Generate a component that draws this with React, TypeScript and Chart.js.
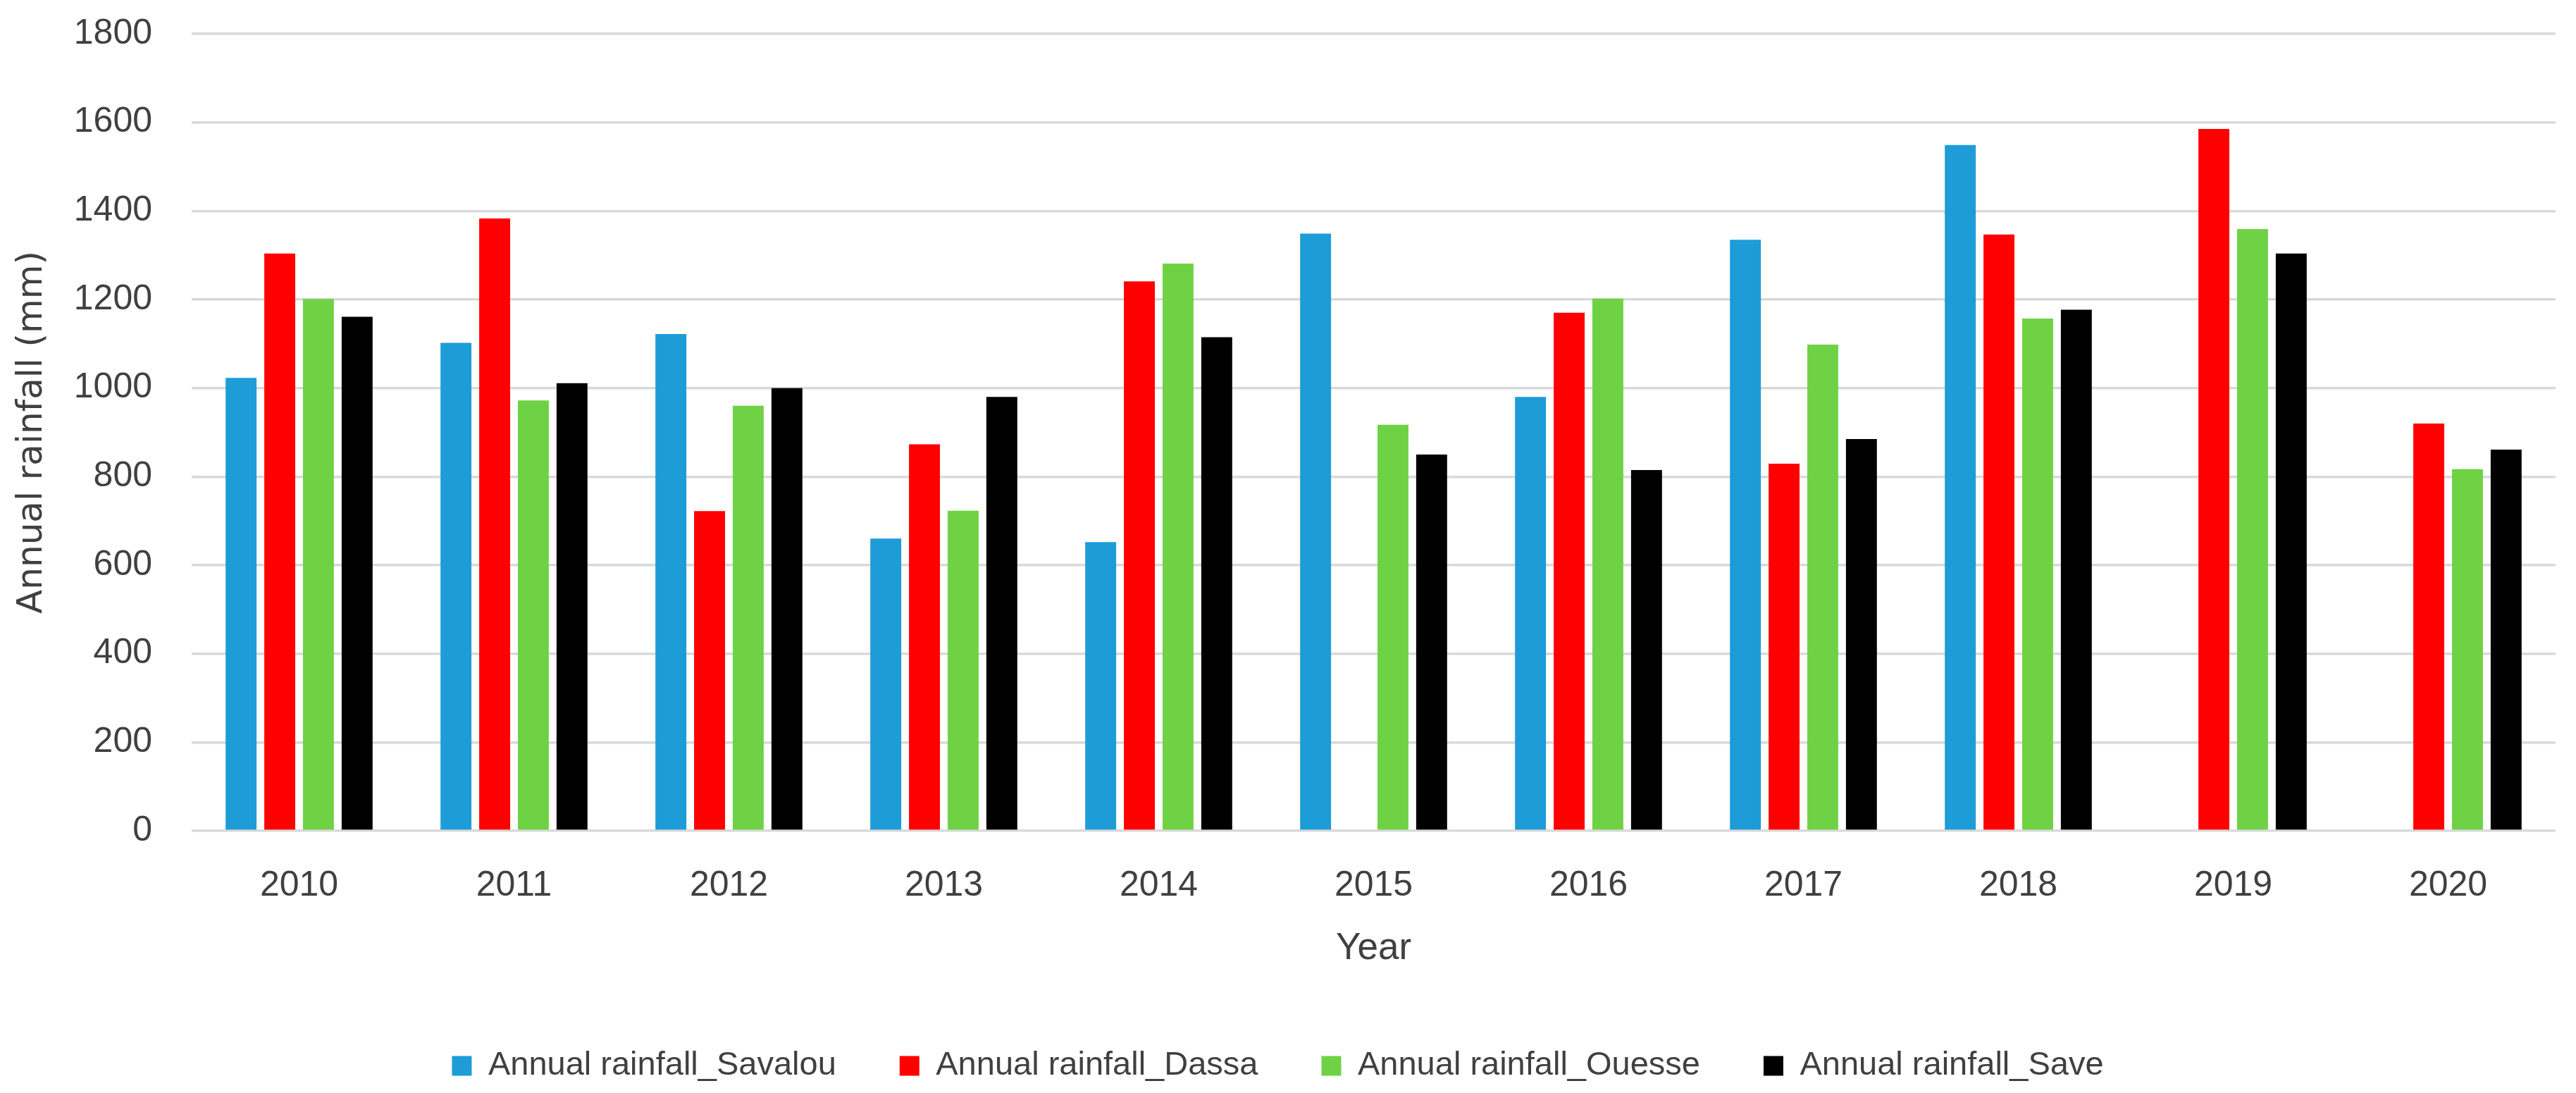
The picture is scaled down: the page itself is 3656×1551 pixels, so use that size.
import React, { useEffect, useRef } from "react";
import { Chart, registerables } from "chart.js";

Chart.register(...registerables);

const years = ["2010", "2011", "2012", "2013", "2014", "2015", "2016", "2017", "2018", "2019", "2020"];
const savalou = [1023, 1102, 1122, 660, 652, 1349, 980, 1335, 1549, null, null];
const dassa = [1304, 1383, 722, 873, 1241, null, 1170, 829, 1347, 1585, 920];
const ouesse = [1201, 972, 960, 723, 1281, 917, 1202, 1098, 1157, 1359, 817];
const save = [1161, 1011, 1000, 980, 1115, 850, 815, 885, 1177, 1304, 861];
const seriesNames = [
  "Annual rainfall_Savalou",
  "Annual rainfall_Dassa",
  "Annual rainfall_Ouesse",
  "Annual rainfall_Save",
];
const seriesColors = ["#1E9CD8", "#FF0000", "#6FD245", "#000000"];
const yTitle = "Annual rainfall (mm)";
const xTitle = "Year";

const W = 3656;
const H = 1551;

export default function App() {
  const ref = useRef<HTMLCanvasElement | null>(null);

  useEffect(() => {
    if (!ref.current) return;
    const values = [savalou, dassa, ouesse, save];
    const chart = new Chart(ref.current, {
      type: "bar",
      data: {
        labels: years,
        datasets: values.map((v, i) => ({
          label: seriesNames[i],
          data: v,
          backgroundColor: seriesColors[i],
          borderWidth: 0,
          categoryPercentage: 0.72,
          barPercentage: 0.8,
        })),
      },
      options: {
        animation: false,
        responsive: false,
        devicePixelRatio: 1,
        layout: { padding: { left: 0, right: 29, top: 48, bottom: 5 } },
        plugins: {
          tooltip: { enabled: false },
          legend: {
            position: "bottom",
            labels: {
              boxWidth: 28,
              boxHeight: 28,
              padding: 90,
              color: "#404040",
              font: { family: "'Liberation Sans', Arial, sans-serif", size: 47 },
            },
          },
        },
        scales: {
          x: {
            grid: { display: false, drawTicks: false },
            border: { display: false },
            afterFit: (scale: any) => {
              scale.height = 220;
              scale.paddingLeft = 0;
              scale.paddingRight = 0;
            },
            ticks: {
              padding: 48,
              color: "#404040",
              font: { family: "'Liberation Sans', Arial, sans-serif", size: 50 },
            },
            title: {
              display: true,
              text: xTitle,
              color: "#404040",
              padding: { top: 0, bottom: 21 },
              font: { family: "'Liberation Sans', Arial, sans-serif", size: 53 },
            },
          },
          y: {
            min: 0,
            max: 1800,
            grid: { color: "#D9D9D9", lineWidth: 3.5, drawTicks: false },
            border: { display: false },
            afterFit: (scale: any) => {
              scale.width = 272;
              scale.paddingTop = 0;
              scale.paddingBottom = 0;
            },
            ticks: {
              stepSize: 200,
              padding: 56,
              color: "#404040",
              font: { family: "'Liberation Sans', Arial, sans-serif", size: 50 },
              callback: (v: any) => String(v),
            },
            title: {
              display: true,
              text: yTitle,
              color: "#404040",
              padding: { top: 16, bottom: 0 },
              font: { family: "'DejaVu Sans', Verdana, sans-serif", size: 50 },
            },
          },
        },
      },
    });
    return () => chart.destroy();
  }, []);

  return (
    <div style={{ position: "fixed", left: 0, top: 0, width: W, height: H, background: "#fff" }}>
      <canvas ref={ref} width={W} height={H} style={{ width: W, height: H, display: "block" }} />
    </div>
  );
}
